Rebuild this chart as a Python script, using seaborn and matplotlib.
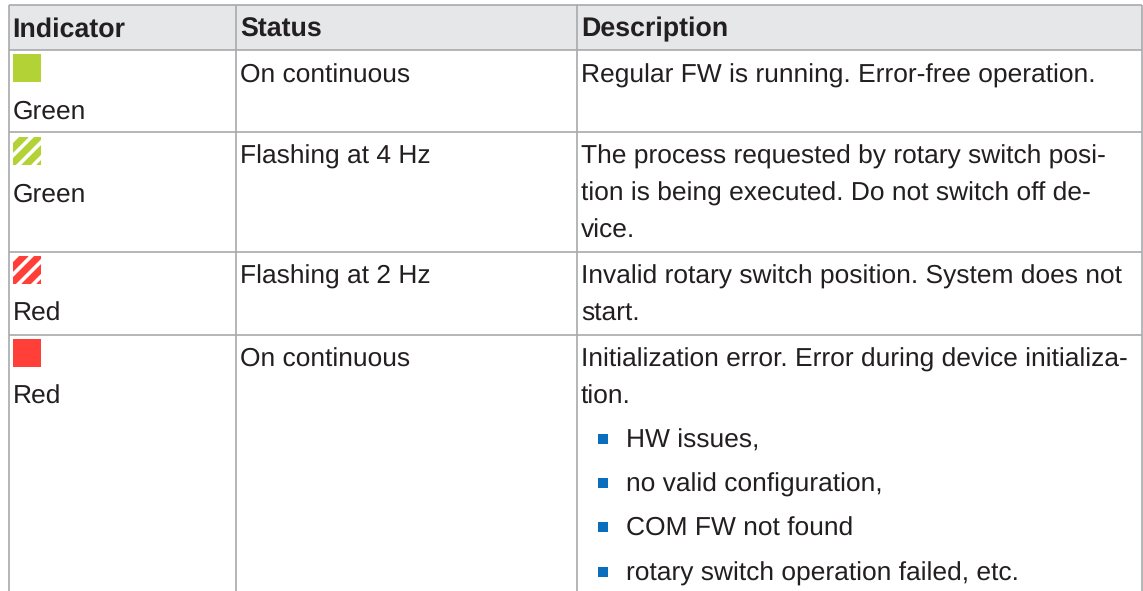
import seaborn as sns
import matplotlib.pyplot as plt
from matplotlib.patches import Rectangle

# table content
headers = ['Indicator', 'Status', 'Description']
indicators = ['Green', 'Green', 'Red', 'Red']
statuses = ['On continuous', 'Flashing at 4 Hz', 'Flashing at 2 Hz', 'On continuous']
flashing = [False, True, True, False]
descriptions = [
    ['Regular FW is running. Error-free operation.'],
    ['The process requested by rotary switch posi-',
     'tion is being executed. Do not switch off de-',
     'vice.'],
    ['Invalid rotary switch position. System does not',
     'start.'],
    ['Initialization error. Error during device initializa-',
     'tion.'],
]
bullets = ['HW issues,', 'no valid configuration,', 'COM FW not found',
           'rotary switch operation failed, etc.']

# layout in pixels
col_lines = [8.5, 235.5, 576.5, 1142]
row_lines = [4.5, 49.5, 132, 251.5, 334.5]
col_text = [12.5, 240, 581]
swatch_colors = ['#b2d235', '#b2d235', '#ff3f38', '#ff3f38']
swatch_top = [54, 137, 256, 339]
first_base = [82.4, 163.4, 283.4, 366.4]
bullet_base = [447.4, 491.4, 535.8, 580.4]
line_gap = 37
GRID = '#a7a9ac'
INK = '#231f20'
FS = 19
FS_HEAD = 19.3

sns.set_theme(style='white')
plt.rcParams['font.family'] = ['Liberation Sans', 'DejaVu Sans']
plt.rcParams['text.hinting'] = 'no_hinting'
plt.rcParams['text.hinting_factor'] = 8

fig = plt.figure(figsize=(11.43, 5.91), dpi=100)
ax = fig.add_axes([0, 0, 1, 1])
ax.set_xlim(0, 1143)
ax.set_ylim(591, 0)
ax.axis('off')

# header band and rules
ax.add_patch(Rectangle((col_lines[0], row_lines[0]), col_lines[-1] - col_lines[0],
                       row_lines[1] - row_lines[0], fc='#e6e7e8', ec='none', zorder=0))
ax.hlines(row_lines, col_lines[0], col_lines[-1], color=GRID, lw=1.2, zorder=2)
ax.vlines(col_lines, row_lines[0], 591, color=GRID, lw=1.2, zorder=2)

for x, h in zip(col_text, headers):
    ax.text(x, 36.4, h, fontsize=FS_HEAD, fontweight='bold', color=INK, va='baseline')

for i in range(len(indicators)):
    top = swatch_top[i]
    rect = Rectangle((13, top), 28, 28, fc=swatch_colors[i] if not flashing[i] else 'white',
                     ec='none', zorder=3)
    ax.add_patch(rect)
    if flashing[i]:
        # diagonal stripes, clipped to the swatch
        for k in range(5):
            x0 = -6 + k * 15
            ln, = ax.plot([x0, x0 + 32], [top + 30, top - 2], color=swatch_colors[i],
                          lw=5, solid_capstyle='butt', zorder=4)
            ln.set_clip_path(rect)
    ax.text(col_text[0], top + 64.4, indicators[i], fontsize=FS, color=INK, va='baseline')
    ax.text(col_text[1], first_base[i], statuses[i], fontsize=FS, color=INK, va='baseline')
    for j, line in enumerate(descriptions[i]):
        ax.text(col_text[2], first_base[i] + j * line_gap, line, fontsize=FS, color=INK, va='baseline')

# bullet list in the last row
sns.scatterplot(x=[603] * len(bullets), y=[439, 483, 527, 572], marker='s', s=52,
                color='#0a6ebd', linewidth=0, ax=ax, zorder=3, legend=False)
ax.set_xlim(0, 1143)
ax.set_ylim(591, 0)
ax.axis('off')
for b, t in zip(bullet_base, bullets):
    ax.text(626, b, t, fontsize=FS, color=INK, va='baseline')

fig.savefig('out.png', dpi=100)
